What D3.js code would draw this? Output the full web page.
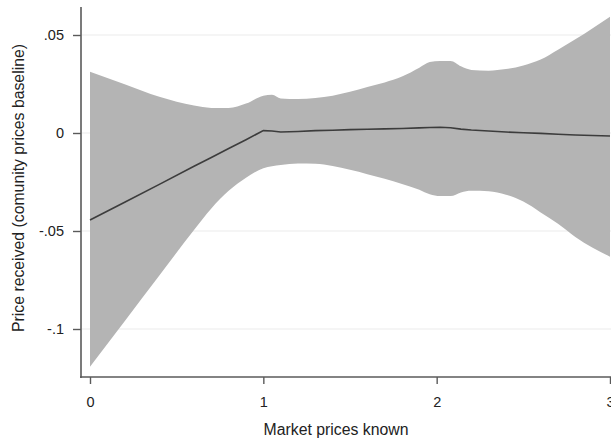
<!DOCTYPE html>
<html lang="en">
<head>
  <meta charset="UTF-8" />
  <title>Price received vs market prices known</title>
  <script src="https://d3js.org/d3.v7.min.js"></script>
  <style>
    body {
      margin: 0;
      background: #fff;
      font-family: "Liberation Sans", Arial, sans-serif;
    }
    #chart svg { display: block; }
  </style>
</head>
<body>
  <div id="chart"></div>
  <script>
    // Valores
    const marketPrices = [0, 0.2, 0.4, 0.6, 0.7, 0.8, 0.9, 1.0, 1.05, 1.1, 1.2, 1.3, 1.4, 1.5, 1.6, 1.7, 1.8, 1.9, 1.96, 2.02, 2.08, 2.14, 2.2, 2.3, 2.4, 2.5, 2.6, 2.7, 2.8, 2.9, 3.0];
    const estimate = [-0.0444, -0.0353, -0.0262, -0.0170, -0.0125, -0.0079, -0.0034, 0.0012, 0.0010, 0.0005, 0.0008, 0.0012, 0.0014, 0.0017, 0.0019, 0.0021, 0.0023, 0.0026, 0.0028, 0.0029, 0.0027, 0.0020, 0.0015, 0.0010, 0.0005, 0.0001, -0.0002, -0.0006, -0.0010, -0.0013, -0.0015];
    const upperCI = [0.0313, 0.0249, 0.0185, 0.0140, 0.0128, 0.0127, 0.0150, 0.0190, 0.0195, 0.0176, 0.0173, 0.0178, 0.0190, 0.0210, 0.0235, 0.0258, 0.0288, 0.0333, 0.0362, 0.0367, 0.0367, 0.0340, 0.0322, 0.0318, 0.0326, 0.0345, 0.0375, 0.0425, 0.0478, 0.0535, 0.0593];
    const lowerCI = [-0.1192, -0.0960, -0.0727, -0.0495, -0.0385, -0.0295, -0.0228, -0.0180, -0.0170, -0.0163, -0.0156, -0.0157, -0.0168, -0.0188, -0.0210, -0.0234, -0.0260, -0.0290, -0.0313, -0.0322, -0.0322, -0.0303, -0.0295, -0.0297, -0.0315, -0.0350, -0.0405, -0.0463, -0.0530, -0.0585, -0.0631];

    const xTicks = [0, 1, 2, 3];
    const yTicks = [0.05, 0, -0.05, -0.1];
    const yTickLabels = [".05", "0", "-.05", "-.1"];

    const width = 611, height = 439;
    const axisLeft = 81, axisBottom = 377, axisTop = 7;

    const svg = d3.select("#chart")
      .append("svg")
      .attr("width", width)
      .attr("height", height);

    const x = d3.scaleLinear().domain([0, 3]).range([90, 610]);
    const y = d3.scaleLinear().domain([-0.1, 0.05]).range([329, 35]);

    const data = marketPrices.map((m, i) => ({
      m: m, est: estimate[i], lo: lowerCI[i], hi: upperCI[i]
    }));

    // linhas de grade
    svg.append("g")
      .selectAll("line")
      .data(yTicks)
      .join("line")
      .attr("x1", axisLeft + 1)
      .attr("x2", width)
      .attr("y1", d => y(d))
      .attr("y2", d => y(d))
      .attr("stroke", "#ebebeb")
      .attr("stroke-width", 1.2);

    // intervalo de confiança
    const area = d3.area()
      .x(d => x(d.m))
      .y0(d => y(d.lo))
      .y1(d => y(d.hi))
      .curve(d3.curveMonotoneX);

    svg.append("path")
      .datum(data)
      .attr("fill", "#b4b4b4")
      .attr("d", area);

    // estimativa
    const line = d3.line()
      .x(d => x(d.m))
      .y(d => y(d.est));

    svg.append("path")
      .datum(data)
      .attr("fill", "none")
      .attr("stroke", "#3c3c3c")
      .attr("stroke-width", 1.6)
      .attr("d", line);

    // eixo Y
    const yAxis = svg.append("g")
      .attr("transform", `translate(${axisLeft},0)`)
      .call(d3.axisLeft(y)
        .tickValues(yTicks)
        .tickFormat((d, i) => yTickLabels[i])
        .tickSize(8)
        .tickPadding(9));
    yAxis.select(".domain").remove();
    yAxis.append("line")
      .attr("x1", 0).attr("x2", 0)
      .attr("y1", axisTop).attr("y2", axisBottom + 1)
      .attr("stroke", "#5a5a5a")
      .attr("stroke-width", 1.6);

    // eixo X
    const xAxis = svg.append("g")
      .attr("transform", `translate(0,${axisBottom})`)
      .call(d3.axisBottom(x)
        .tickValues(xTicks)
        .tickFormat(d3.format("d"))
        .tickSize(7)
        .tickPadding(13));
    xAxis.select(".domain").remove();
    xAxis.append("line")
      .attr("x1", axisLeft - 1).attr("x2", width)
      .attr("y1", 0).attr("y2", 0)
      .attr("stroke", "#5a5a5a")
      .attr("stroke-width", 1.6);

    svg.selectAll(".tick line")
      .attr("stroke", "#5a5a5a")
      .attr("stroke-width", 1.4);
    svg.selectAll(".tick text")
      .attr("fill", "#222")
      .style("font-family", "'Liberation Sans', Arial, sans-serif")
      .style("font-size", "14.5px");

    // títulos dos eixos
    svg.append("text")
      .attr("x", 336)
      .attr("y", 435)
      .attr("text-anchor", "middle")
      .attr("fill", "#222")
      .style("font-size", "15.8px")
      .text("Market prices known");

    svg.append("text")
      .attr("transform", "translate(24,188) rotate(-90)")
      .attr("text-anchor", "middle")
      .attr("fill", "#222")
      .style("font-size", "15.8px")
      .text("Price received (comunity prices baseline)");
  </script>
</body>
</html>
